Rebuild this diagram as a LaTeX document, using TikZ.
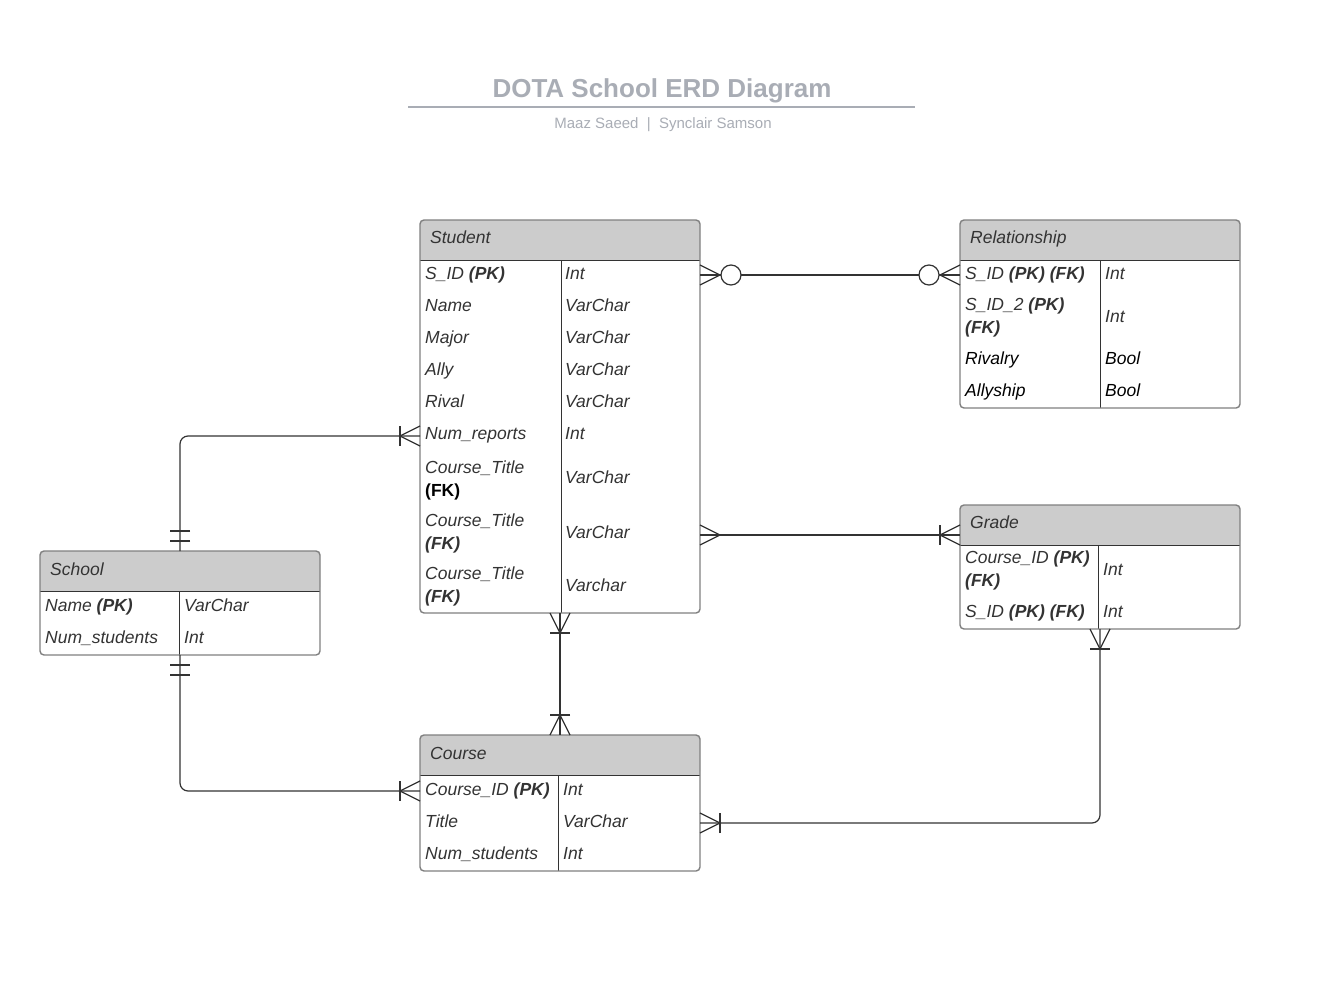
\documentclass[tikz,border=0pt]{standalone}
\usepackage{fontspec}
\setmainfont{Liberation Sans}
\usetikzlibrary{calc}
\definecolor{titlegray}{HTML}{A9ADB5}
\definecolor{txt}{HTML}{333333}
\definecolor{hdr}{HTML}{CCCCCC}
\definecolor{bord}{HTML}{808080}
\definecolor{ln}{HTML}{333333}
\newcommand\rowfont{\fontsize{17.5}{22.5}\selectfont\itshape}
\newcommand\blk[1]{\textcolor{black}{#1}}
\tikzset{
 conn/.style={draw=ln, line width=1.2pt},
 cell/.style={anchor=base west, inner sep=0pt, font=\rowfont, text=txt, align=left},
 hdrtext/.style={anchor=base west, inner sep=0pt, font=\rowfont, text=txt},
 tblbody/.style={fill=white, inner sep=0pt, outer sep=0pt},
 tblborder/.style={draw=bord, line width=1.4pt, rounded corners=4pt},
 divline/.style={draw=ln, line width=1pt},
 pics/crow/.style={code={\draw[conn] (0,10)--(20,0)--(0,-10);}},
 pics/crowbar/.style={code={\draw[conn] (0,10)--(20,0)--(0,-10); \draw[conn] (20,10)--(20,-10);}},
 pics/crowcircle/.style={code={\draw[conn] (0,10)--(20,0)--(0,-10); \draw[conn, fill=white] (31,0) circle[radius=10];}},
 pics/twobar/.style={code={\draw[conn] (10,10)--(10,-10) (20,10)--(20,-10);}},
}
\newcommand\erdtbl[6]{%
 \node[tblbody, minimum width=#4pt, minimum height=#5pt, anchor=north west] (#1) at (#2,#3) {};
 \fill[hdr, rounded corners=4pt] (#1.north west) rectangle ($(#1.north east)+(0,40)$);
 \fill[hdr] ($(#1.north west)+(0,20)$) rectangle ($(#1.north east)+(0,40)$);
 \draw[divline] ($(#1.north west)+(0,40)$) -- ($(#1.north east)+(0,40)$);
 \draw[divline] (#6,{#3+40}) -- (#6,{#3+#5});
 \draw[tblborder] (#1.north west) rectangle (#1.south east);
}
\begin{document}
\begin{tikzpicture}[x=1pt, y=-1pt]
\useasboundingbox[fill=white] (0,0) rectangle (1327,995);

% title
\node[font=\fontsize{26}{30}\selectfont\bfseries, text=titlegray] (title) at (662,91) {DOTA School ERD Diagram};
\draw[titlegray, line width=2pt] (408,107) -- (915,107);
\node[font=\fontsize{15}{18}\selectfont, text=titlegray] (sub) at (663,124.5) {Maaz Saeed\ \ |\ \ Synclair Samson};

% tables
\erdtbl{student}{420}{220}{280}{393}{561}
\erdtbl{rel}{960}{220}{280}{188}{1100}
\erdtbl{grade}{960}{505}{280}{124}{1098}
\erdtbl{school}{40}{551}{280}{104}{179}
\erdtbl{course}{420}{735}{280}{136}{558}

% Student
\node[hdrtext] (student-h) at (430,243) {Student};
\node[cell] (st1) at (425,279) {S\_ID \textbf{(PK)}};
\node[cell] (st1t) at (565,279) {Int};
\node[cell] (st2) at (425,311) {Name};
\node[cell] (st2t) at (565,311) {VarChar};
\node[cell] (st3) at (425,343) {Major};
\node[cell] (st3t) at (565,343) {VarChar};
\node[cell] (st4) at (425,375) {Ally};
\node[cell] (st4t) at (565,375) {VarChar};
\node[cell] (st5) at (425,407) {Rival};
\node[cell] (st5t) at (565,407) {VarChar};
\node[cell] (st6) at (425,439) {Num\_reports};
\node[cell] (st6t) at (565,439) {Int};
\node[cell] (st7) at (425,496) {Course\_Title\\\blk{\upshape\bfseries (FK)}};
\node[cell] (st7t) at (565,483) {VarChar};
\node[cell] (st8) at (425,549) {Course\_Title\\\textbf{(FK)}};
\node[cell] (st8t) at (565,538) {VarChar};
\node[cell] (st9) at (425,602) {Course\_Title\\\textbf{(FK)}};
\node[cell] (st9t) at (565,591) {Varchar};

% Relationship
\node[hdrtext] (rel-h) at (970,243) {Relationship};
\node[cell] (r1) at (965,279) {S\_ID \textbf{(PK) (FK)}};
\node[cell] (r1t) at (1105,279) {Int};
\node[cell] (r2) at (965,333) {S\_ID\_2 \textbf{(PK)}\\\textbf{(FK)}};
\node[cell] (r2t) at (1105,322) {Int};
\node[cell, text=black] (r3) at (965,364) {Rivalry};
\node[cell, text=black] (r3t) at (1105,364) {Bool};
\node[cell, text=black] (r4) at (965,396) {Allyship};
\node[cell, text=black] (r4t) at (1105,396) {Bool};

% Grade
\node[hdrtext] (grade-h) at (970,528) {Grade};
\node[cell] (g1) at (965,586) {Course\_ID \textbf{(PK)}\\\textbf{(FK)}};
\node[cell] (g1t) at (1103,575) {Int};
\node[cell] (g2) at (965,617) {S\_ID \textbf{(PK) (FK)}};
\node[cell] (g2t) at (1103,617) {Int};

% School
\node[hdrtext] (school-h) at (50,575) {School};
\node[cell] (sc1) at (45,611) {Name \textbf{(PK)}};
\node[cell] (sc1t) at (184,611) {VarChar};
\node[cell] (sc2) at (45,643) {Num\_students};
\node[cell] (sc2t) at (184,643) {Int};

% Course
\node[hdrtext] (course-h) at (430,759) {Course};
\node[cell] (c1) at (425,795) {Course\_ID \textbf{(PK)}};
\node[cell] (c1t) at (563,795) {Int};
\node[cell] (c2) at (425,827) {Title};
\node[cell] (c2t) at (563,827) {VarChar};
\node[cell] (c3) at (425,859) {Num\_students};
\node[cell] (c3t) at (563,859) {Int};

% connector end points
\coordinate (sr1) at ($(student.north east)+(0,55)$);
\coordinate (sr2) at ($(rel.north west)+(0,55)$);
\coordinate (ss2) at ($(student.north west)+(0,216)$);
\coordinate (sc2) at ($(course.north west)+(0,56)$);
\coordinate (sg1) at ($(student.north east)+(0,315)$);
\coordinate (sg2) at ($(grade.north west)+(0,30)$);
\coordinate (gc2) at ($(course.north east)+(0,88)$);

% connectors
\draw[conn] (sr1) -- (sr2);
\draw[conn, rounded corners=8pt] (school.north) |- (ss2);
\draw[conn, rounded corners=8pt] (school.south) |- (sc2);
\draw[conn] (student.south) -- (course.north);
\draw[conn] (sg1) -- (sg2);
\draw[conn, rounded corners=8pt] (grade.south) |- (gc2);

% ends
\pic[rotate=0] at (sr1) {crowcircle};
\pic[rotate=180] at (sr2) {crowcircle};
\pic[rotate=90] at (school.north) {twobar};
\pic[rotate=180] at (ss2) {crowbar};
\pic[rotate=-90] at (school.south) {twobar};
\pic[rotate=180] at (sc2) {crowbar};
\pic[rotate=-90] at (student.south) {crowbar};
\pic[rotate=90] at (course.north) {crowbar};
\pic[rotate=0] at (sg1) {crow};
\pic[rotate=180] at (sg2) {crowbar};
\pic[rotate=-90] at (grade.south) {crowbar};
\pic[rotate=0] at (gc2) {crowbar};
\end{tikzpicture}
\end{document}
